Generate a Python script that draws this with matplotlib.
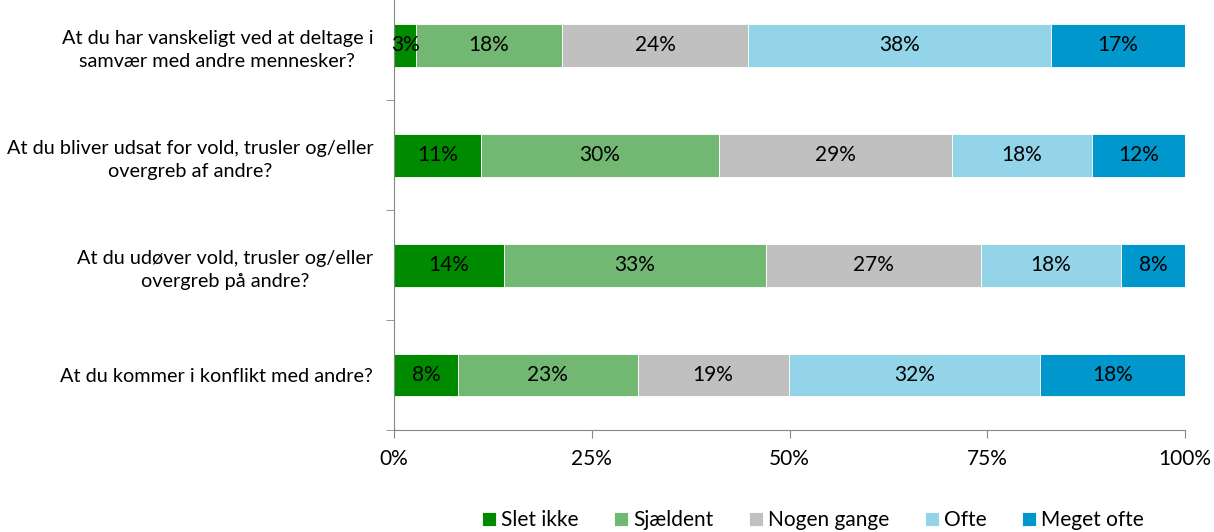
import matplotlib.pyplot as plt
from matplotlib.ticker import FixedLocator, PercentFormatter

plt.rcParams['font.family'] = ['Lato', 'DejaVu Sans']

questions = [
    "At du har vanskeligt ved at deltage i\nsamvær med andre mennesker?",
    "At du bliver udsat for vold, trusler og/eller\novergreb af andre?",
    "At du udøver vold, trusler og/eller\novergreb på andre?",
    "At du kommer i konflikt med andre?",
]
answers = ["Slet ikke", "Sjældent", "Nogen gange", "Ofte", "Meget ofte"]
colors = ["#008a00", "#72b872", "#c0c0c0", "#93d4e8", "#0098cc"]

# percentages per question, in the order of answers
slet_ikke = [2.8, 11.0, 13.9, 8.1]
sjaeldent = [18.4, 30.1, 33.1, 22.7]
nogen_gange = [23.6, 29.4, 27.2, 19.1]
ofte = [38.3, 17.7, 17.7, 31.8]
meget_ofte = [16.9, 11.8, 8.1, 18.3]
series = [slet_ikke, sjaeldent, nogen_gange, ofte, meget_ofte]

fig = plt.figure(figsize=(12.14, 5.32), dpi=100)
ax = fig.add_axes([394 / 1214, 1 - 430 / 532, 791 / 1214, 439.5 / 532])

ypos = list(range(len(questions)))
left = [0.0] * len(questions)
for name, vals, col in zip(answers, series, colors):
    ax.barh(ypos, vals, left=left, height=0.39, color=col, label=name,
            edgecolor="white", linewidth=0.6)
    for y, l, v in zip(ypos, left, vals):
        ax.text(l + v / 2, y, f"{round(v)}%", ha="center", va="center",
                fontsize=15, color="black")
    left = [a + b for a, b in zip(left, vals)]

ax.set_xlim(0, 100)
ax.set_ylim(len(questions) - 0.5, -0.5)
ax.set_yticks(ypos)
ax.set_yticklabels(questions, fontsize=14.3, ha="right", multialignment="center",
                   linespacing=1.45)
ax.tick_params(axis="y", length=0, pad=15)
ax.yaxis.set_minor_locator(FixedLocator([0.5, 1.5, 2.5, 3.5]))
ax.tick_params(axis="y", which="minor", length=6, color="#868686")
ax.set_xticks([0, 25, 50, 75, 100])
ax.xaxis.set_major_formatter(PercentFormatter(decimals=0))
ax.tick_params(axis="x", length=6, color="#868686", labelsize=15, pad=8)

for s in ["top", "right"]:
    ax.spines[s].set_visible(False)
for s in ["left", "bottom"]:
    ax.spines[s].set_color("#868686")

fig.legend(loc="center", bbox_to_anchor=(813 / 1214, 1 - 520 / 532), ncol=5,
           frameon=False, fontsize=15, handlelength=0.67, handleheight=0.67,
           handletextpad=0.25, columnspacing=1.7)

fig.savefig("out.png", dpi=100)
